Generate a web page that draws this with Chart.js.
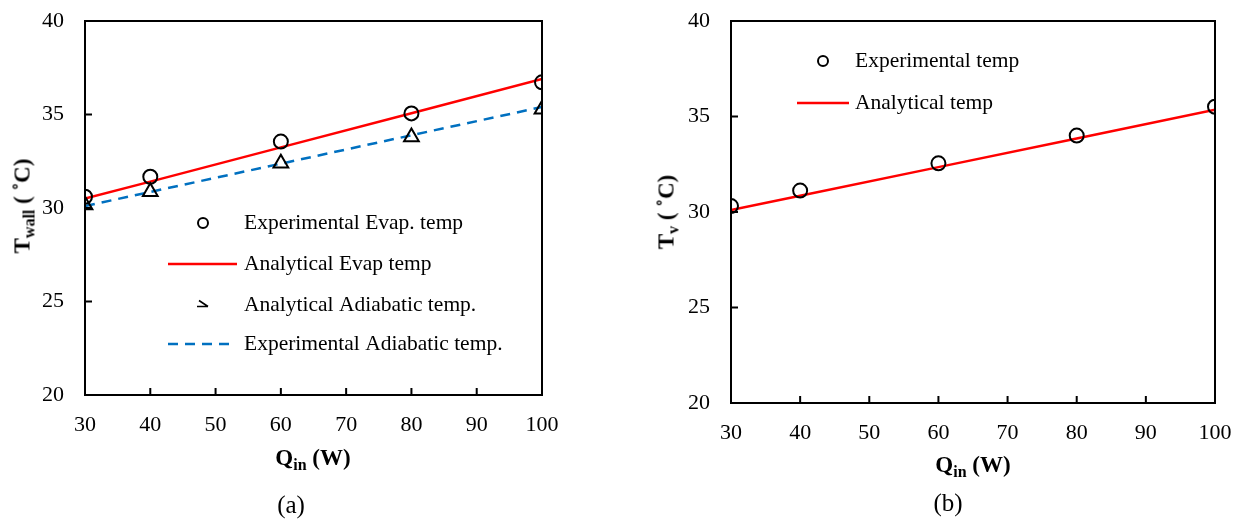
<!DOCTYPE html>
<html>
<head>
<meta charset="utf-8">
<script src="https://cdn.jsdelivr.net/npm/chart.js@4"></script>
<style>
  html, body { margin:0; padding:0; background:#fff; }
  body { width:1240px; height:521px; position:relative; overflow:hidden; font-family:"Liberation Serif", "Times New Roman", serif; }
  .cv { position:absolute; top:0; width:620px; height:521px; }
  .lbl { position:absolute; white-space:nowrap; color:#000; transform:translate(-50%,-50%); }
  .ttl { font-weight:bold; font-size:23px; }
  .ttl sub { font-size:16px; vertical-align:-5px; }
  .rot { transform:translate(-50%,-50%) rotate(-90deg); }
  .cap { font-size:25px; }
</style>
</head>
<body>
<div class="cv" style="left:0"><canvas id="c1" width="620" height="521"></canvas></div>
<div class="cv" style="left:620px"><canvas id="c2" width="620" height="521"></canvas></div>

<div class="lbl ttl rot" style="left:24px; top:206px;">T<sub>wall</sub> ( ˚C)</div>
<div class="lbl ttl" style="left:313px; top:459px;">Q<sub>in</sub> (W)</div>
<div class="lbl cap" style="left:291px; top:505px;">(a)</div>

<div class="lbl ttl rot" style="left:668px; top:212px;">T<sub>v</sub> ( ˚C)</div>
<div class="lbl ttl" style="left:973px; top:466px;">Q<sub>in</sub> (W)</div>
<div class="lbl cap" style="left:948px; top:503px;">(b)</div>

<script>
// ---- data ----
const qIn = [30, 40, 60, 80, 100];
// chart (a)
const expEvapA = [30.6, 31.67, 33.55, 35.06, 36.72];
const anaEvapA = [30.5, 31.41, 33.24, 35.07, 36.9];
const anaAdiaA = [30.16, 30.87, 32.39, 33.8, 35.28];
const expAdiaA = [30.1, 30.86, 32.37, 33.89, 35.4];
// chart (b)
const expTempB = [30.31, 31.12, 32.55, 34.0, 35.51];
const anaTempB = [30.1, 30.85, 32.35, 33.85, 35.35];
// ticks
const xTickValues = [30, 40, 50, 60, 70, 80, 90, 100];
const yTickValues = [20, 25, 30, 35, 40];
// labels
const labelsA = ["Experimental Evap. temp", "Analytical Evap temp", "Analytical Adiabatic temp.", "Experimental Adiabatic temp."];
const labelsB = ["Experimental temp", "Analytical temp"];

const FONT = "'Liberation Serif', 'Times New Roman', serif";
const pts = (xs, ys) => xs.map((x, i) => ({x: x, y: ys[i]}));

// frame + inward ticks
const framePlugin = {
  id: 'frame',
  afterDatasetsDraw(chart) {
    const ctx = chart.ctx, a = chart.chartArea;
    const xs = chart.scales.x, ys = chart.scales.y;
    ctx.save();
    ctx.strokeStyle = '#000';
    ctx.lineWidth = 2;
    ctx.strokeRect(a.left, a.top, a.right - a.left, a.bottom - a.top);
    ctx.beginPath();
    xTickValues.slice(1, -1).forEach(v => {
      const px = xs.getPixelForValue(v);
      ctx.moveTo(px, a.bottom); ctx.lineTo(px, a.bottom - 7);
    });
    yTickValues.slice(1, -1).forEach(v => {
      const py = ys.getPixelForValue(v);
      ctx.moveTo(a.left, py); ctx.lineTo(a.left + 7, py);
    });
    ctx.stroke();
    ctx.restore();
  }
};

// legend drawn inside the plot
const legendPlugin = {
  id: 'customLegend',
  afterDraw(chart, args, opts) {
    const ctx = chart.ctx;
    ctx.save();
    ctx.font = "21.5px " + FONT;
    ctx.fillStyle = '#000';
    ctx.textBaseline = 'middle';
    opts.items.forEach((it, i) => {
      const ds = chart.data.datasets[i];
      const y = it.y;
      if (it.kind === 'circle') {
        ctx.beginPath();
        ctx.strokeStyle = '#000'; ctx.lineWidth = 2;
        ctx.arc(it.mx, y, 5, 0, Math.PI * 2);
        ctx.stroke();
      } else if (it.kind === 'tri') {
        ctx.beginPath();
        ctx.strokeStyle = '#000'; ctx.lineWidth = 1.6;
        ctx.moveTo(it.mx - 4, y - 4.5); ctx.lineTo(it.mx + 5, y + 1.5);
        ctx.moveTo(it.mx - 6, y + 1.5); ctx.lineTo(it.mx + 5, y + 1.5);
        ctx.stroke();
      } else {
        ctx.beginPath();
        ctx.strokeStyle = ds.borderColor; ctx.lineWidth = ds.borderWidth;
        ctx.setLineDash(ds.borderDash || []);
        ctx.moveTo(it.x0, y); ctx.lineTo(it.x1, y);
        ctx.stroke();
        ctx.setLineDash([]);
      }
      ctx.fillText(ds.label, opts.textX, y);
    });
    ctx.restore();
  }
};

function makeScales(yWidth) {
  return {
    x: {
      type: 'linear', min: 30, max: 100,
      afterFit: s => { s.height = 40; s.paddingLeft = 0; s.paddingRight = 0; },
      afterBuildTicks: s => { s.ticks = xTickValues.map(v => ({value: v})); },
      grid: { display: false, drawTicks: false },
      border: { display: true, color: '#000', width: 2 },
      ticks: { color: '#000', padding: 17, font: { family: FONT, size: 22 }, maxRotation: 0 }
    },
    y: {
      type: 'linear', min: 20, max: 40,
      afterFit: s => { s.width = yWidth; s.paddingTop = 0; s.paddingBottom = 0; },
      afterBuildTicks: s => { s.ticks = yTickValues.map(v => ({value: v})); },
      grid: { display: false, drawTicks: false },
      border: { display: true, color: '#000', width: 2 },
      ticks: { color: '#000', padding: 21, font: { family: FONT, size: 22 } }
    }
  };
}

const common = {
  responsive: false,
  animation: false,
  devicePixelRatio: 1,
  events: [],
};

new Chart(document.getElementById('c1'), {
  type: 'scatter',
  data: {
    datasets: [
      { label: labelsA[0], data: pts(qIn, expEvapA), showLine: false, pointStyle: 'circle', pointRadius: 7,
        pointBorderWidth: 2, pointBorderColor: '#000', pointBackgroundColor: 'rgba(0,0,0,0)', order: 0 },
      { label: labelsA[1], data: pts(qIn, anaEvapA), showLine: true, borderColor: '#ff0000', borderWidth: 2.5,
        pointRadius: 0, order: 2 },
      { label: labelsA[2], data: pts(qIn, anaAdiaA), showLine: false, pointStyle: 'triangle', pointRadius: 8.5,
        pointBorderWidth: 2, pointBorderColor: '#000', pointBackgroundColor: 'rgba(0,0,0,0)', order: 1 },
      { label: labelsA[3], data: pts(qIn, expAdiaA), showLine: true, borderColor: '#0070c0', borderWidth: 2.5,
        borderDash: [10, 7], pointRadius: 0, order: 3 }
    ]
  },
  options: Object.assign({}, common, {
    layout: { padding: { left: 25, top: 21, right: 78, bottom: 86 } },
    scales: makeScales(60),
    plugins: {
      legend: { display: false }, tooltip: { enabled: false },
      customLegend: {
        textX: 244,
        items: [
          { kind: 'circle', mx: 203, y: 223 },
          { kind: 'line', x0: 168, x1: 237, y: 264 },
          { kind: 'tri', mx: 203, y: 305 },
          { kind: 'line', x0: 168, x1: 233, y: 344 }
        ]
      }
    }
  }),
  plugins: [framePlugin, legendPlugin]
});

new Chart(document.getElementById('c2'), {
  type: 'scatter',
  data: {
    datasets: [
      { label: labelsB[0], data: pts(qIn, expTempB), showLine: false, pointStyle: 'circle', pointRadius: 7,
        pointBorderWidth: 2, pointBorderColor: '#000', pointBackgroundColor: 'rgba(0,0,0,0)', order: 0 },
      { label: labelsB[1], data: pts(qIn, anaTempB), showLine: true, borderColor: '#ff0000', borderWidth: 2.5,
        pointRadius: 0, order: 1 }
    ]
  },
  options: Object.assign({}, common, {
    layout: { padding: { left: 51, top: 21, right: 25, bottom: 78 } },
    scales: makeScales(60),
    plugins: {
      legend: { display: false }, tooltip: { enabled: false },
      customLegend: {
        textX: 235,
        items: [
          { kind: 'circle', mx: 203, y: 61 },
          { kind: 'line', x0: 177, x1: 229, y: 103 }
        ]
      }
    }
  }),
  plugins: [framePlugin, legendPlugin]
});
</script>
</body>
</html>
